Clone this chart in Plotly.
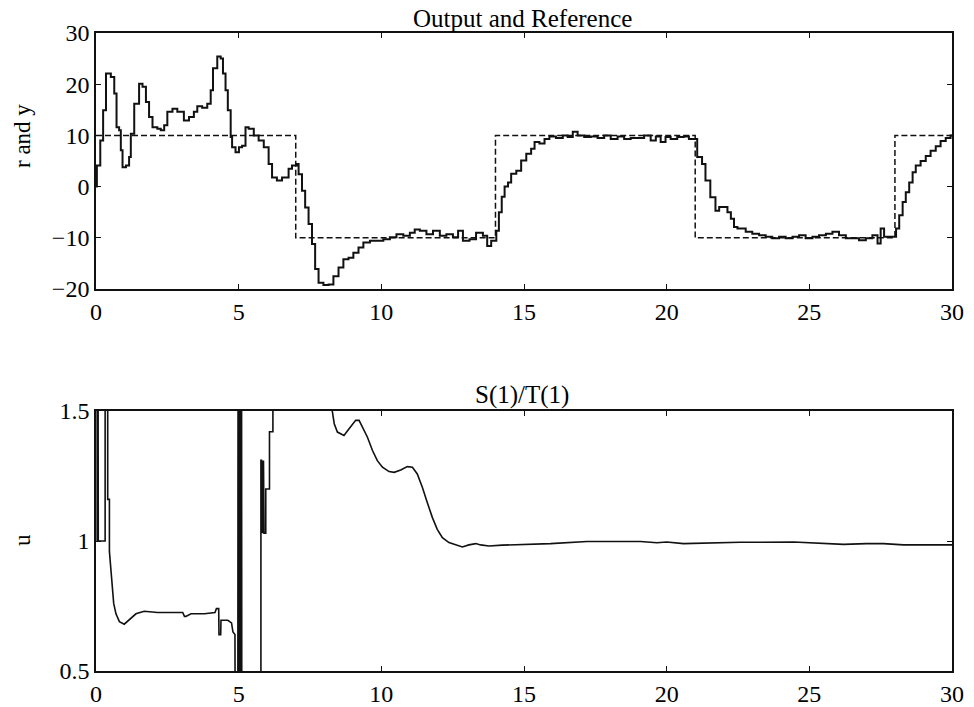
import plotly.graph_objects as go

# ---------------- data ----------------
# Output y (zero-order-hold staircase)
y_time = [0.00, 0.03, 0.15, 0.25, 0.35, 0.52, 0.64, 0.72, 0.81, 0.87, 0.93, 1.05, 1.16, 1.22, 1.34,
          1.51, 1.63, 1.75, 1.86, 1.98, 2.15, 2.27, 2.39, 2.50, 2.68, 2.85, 3.08, 3.26, 3.43, 3.55,
          3.72, 3.90, 4.02, 4.10, 4.25, 4.37, 4.45, 4.54, 4.62, 4.72, 4.77, 4.89, 5.01, 5.12, 5.24,
          5.35, 5.53, 5.70, 5.88, 6.05, 6.17, 6.34, 6.52, 6.75, 6.87, 7.04, 7.10, 7.22, 7.33, 7.45,
          7.57, 7.68, 7.80, 7.97, 8.15, 8.32, 8.50, 8.67, 8.85, 9.02, 9.20, 9.37, 9.60, 9.83, 10.07,
          10.30, 10.53, 10.77, 11.00, 11.17, 11.35, 11.58, 11.81, 12.05, 12.28, 12.51, 12.69, 12.86,
          13.09, 13.32, 13.56, 13.71, 13.85, 14.03, 14.12, 14.22, 14.32, 14.44, 14.55, 14.73, 14.90,
          15.08, 15.25, 15.37, 15.54, 15.72, 15.89, 16.12, 16.36, 16.53, 16.71, 16.88, 17.11, 17.34,
          17.58, 17.81, 18.04, 18.28, 18.51, 18.74, 18.97, 19.21, 19.44, 19.62, 19.79, 19.96, 20.14,
          20.37, 20.60, 20.78, 21.01, 21.07, 21.24, 21.36, 21.53, 21.71, 21.84, 22.13, 22.25, 22.36,
          22.48, 22.77, 23.00, 23.24, 23.47, 23.70, 23.94, 24.17, 24.41, 24.64, 24.87, 25.11, 25.34,
          25.58, 25.81, 26.04, 26.28, 26.51, 26.74, 26.98, 27.21, 27.39, 27.50, 27.62, 28.04, 28.15,
          28.27, 28.38, 28.50, 28.62, 28.73, 28.90, 29.08, 29.25, 29.43, 29.60, 29.78, 29.95, 30.00]
y_output = [0.0, 4.1, 9.0, 14.9, 22.1, 21.4, 18.2, 11.6, 11.0, 7.1, 3.8, 4.1, 5.8, 10.3, 16.2,
            20.1, 19.5, 16.5, 13.6, 11.6, 11.3, 11.0, 12.0, 14.6, 15.2, 14.6, 12.9, 13.6, 14.6, 15.7,
            15.4, 16.2, 18.8, 23.1, 25.4, 25.0, 22.1, 18.8, 14.9, 9.7, 7.7, 6.7, 7.7, 8.0, 11.6,
            11.3, 10.0, 9.0, 7.7, 4.4, 1.8, 1.2, 1.8, 3.5, 4.1, 4.4, 2.4, -0.8, -4.1, -7.3,
            -11.2, -16.1, -18.8, -19.2, -19.1, -17.5, -15.8, -14.2, -13.9, -12.9, -11.9, -10.9, -10.6, -10.6, -10.3,
            -9.9, -9.3, -9.6, -9.0, -8.4, -8.6, -9.3, -8.6, -9.6, -9.3, -9.9, -8.6, -10.6,
            -10.3, -9.0, -9.6, -11.6, -10.6, -8.6, -5.0, -2.0, 0.0, 0.8, 2.5, 3.1, 5.1,
            6.4, 7.4, 8.7, 8.4, 9.3, 9.8, 9.5, 10.0, 9.7, 10.7, 10.0, 9.7, 9.8,
            9.5, 10.0, 9.3, 9.8, 9.3, 9.5, 9.5, 10.0, 9.0, 9.8, 8.7, 9.7, 9.3,
            9.7, 9.8, 9.3, 9.3, 5.8, 4.4, 1.2, -2.1, -4.7, -4.0, -5.0, -6.3, -7.9,
            -8.2, -8.8, -9.2, -9.5, -9.8, -10.1, -9.8, -10.1, -9.8, -9.5, -10.1, -9.8, -9.5,
            -9.2, -8.8, -9.5, -10.1, -10.1, -10.5, -10.1, -9.5, -11.1, -8.2, -9.8, -8.2, -5.6,
            -3.0, -1.1, 0.8, 2.8, 4.1, 5.0, 6.0, 7.0, 7.9, 8.9, 9.5, 10.0, 10.0]

# Reference r (square wave)
r_time = [0, 7, 7, 14, 14, 21, 21, 28, 28, 30]
r_value = [10, 10, -10, -10, 10, 10, -10, -10, 10, 10]

# Control ratio u = S(1)/T(1) (values beyond the axis range are clipped)
u_time = [0.00, 0.04, 0.04, 0.05, 0.06, 0.07, 0.08, 0.32, 0.32, 0.41, 0.41, 0.47, 0.47, 0.55, 0.62,
          0.70, 0.82, 0.99, 1.17, 1.40, 1.69, 2.16, 2.63, 3.04, 3.10, 3.15, 3.33, 3.80, 4.17, 4.22,
          4.30, 4.31, 4.37, 4.38, 4.62, 4.75, 4.80, 4.87, 4.88, 4.97, 4.98, 5.00, 5.02, 5.04, 5.06,
          5.08, 5.10, 5.11, 5.78, 5.78, 5.80, 5.81, 5.83, 5.85, 5.87, 5.89, 5.95, 5.95, 6.08, 6.08,
          6.20, 6.20, 8.25, 8.28, 8.35, 8.46, 8.69, 8.87, 9.10, 9.22, 9.34, 9.51, 9.69, 9.86, 10.04,
          10.27, 10.45, 10.68, 10.91, 11.09, 11.26, 11.44, 11.61, 11.79, 11.96, 12.14, 12.37, 12.61,
          12.84, 13.07, 13.31, 13.48, 13.77, 14.24, 15.93, 17.21, 19.08, 19.66, 20.00, 20.59, 21.18,
          22.58, 24.45, 25.85, 26.20, 27.00, 27.60, 28.30, 30.00]
u_value = [1.9, 1.9, 1.0, 1.9, 1.0, 1.9, 1.0, 1.0, 1.9, 1.9, 1.16, 1.16, 0.96, 0.84, 0.76,
           0.72, 0.69, 0.68, 0.696, 0.72, 0.73, 0.725, 0.725, 0.725, 0.71, 0.71, 0.72, 0.72, 0.725, 0.74,
           0.74, 0.64, 0.64, 0.695, 0.695, 0.685, 0.65, 0.64, 0.2, 0.2, 1.9, 0.2, 1.9, 0.2, 1.9,
           0.2, 1.9, 0.2, 0.2, 1.31, 1.31, 1.03, 1.31, 1.03, 1.31, 1.03, 1.03, 1.20, 1.20, 1.42,
           1.42, 1.9, 1.9, 1.50, 1.451, 1.419, 1.406, 1.432, 1.464, 1.464, 1.438, 1.40, 1.348, 1.309, 1.284,
           1.267, 1.264, 1.273, 1.286, 1.284, 1.258, 1.206, 1.148, 1.090, 1.045, 1.013, 0.994, 0.985,
           0.977, 0.985, 0.990, 0.985, 0.981, 0.984, 0.990, 0.998, 0.998, 0.993, 0.996, 0.990, 0.992,
           0.995, 0.996, 0.990, 0.987, 0.990, 0.990, 0.985, 0.985]

x_ticks = [0, 5, 10, 15, 20, 25, 30]
top_y_ticks = [-20, -10, 0, 10, 20, 30]
bottom_y_ticks = [0.5, 1, 1.5]
bottom_y_ticktext = ["0.5", "1", "1.5"]

# ---------------- figure ----------------
W, H = 974, 707
ML, MR, MT, MB = 96, 22, 33, 36
plot_w = W - ML - MR
plot_h = H - MT - MB

def py(pix):
    return (H - MB - pix) / plot_h

def px(pix):
    return (pix - ML) / plot_w

FONT = "Liberation Serif, Times New Roman, serif"
INK = "#111111"

fig = go.Figure()
fig.add_trace(go.Scatter(x=y_time, y=y_output, mode="lines", line_shape="hv",
                         line=dict(color=INK, width=2.0), xaxis="x", yaxis="y", showlegend=False))
fig.add_trace(go.Scatter(x=r_time, y=r_value, mode="lines",
                         line=dict(color=INK, width=1.5, dash="6px,3px"), xaxis="x", yaxis="y",
                         showlegend=False))
fig.add_trace(go.Scatter(x=u_time, y=u_value, mode="lines",
                         line=dict(color=INK, width=1.6), xaxis="x2", yaxis="y2", showlegend=False))

axis_common = dict(showgrid=False, zeroline=False, showline=True, mirror="ticks",
                   linecolor=INK, linewidth=1.6, ticks="inside", ticklen=5, tickwidth=1.2,
                   tickcolor=INK, automargin=False,
                   tickfont=dict(family=FONT, size=24, color="black"))

fig.update_layout(
    width=W, height=H,
    margin=dict(l=ML, r=MR, t=MT, b=MB, autoexpand=False),
    paper_bgcolor="white", plot_bgcolor="white",
    xaxis=dict(domain=[0, 1], range=[0, 30], tickvals=x_ticks, anchor="y",
               ticklabelstandoff=0, **axis_common),
    yaxis=dict(domain=[py(289), 1], range=[-20, 30], tickvals=top_y_ticks, anchor="x", **axis_common),
    xaxis2=dict(domain=[0, 1], range=[0, 30], tickvals=x_ticks, anchor="y2",
                ticklabelstandoff=0, **axis_common),
    yaxis2=dict(domain=[0, py(411)], range=[0.5, 1.5], tickvals=bottom_y_ticks,
                ticktext=bottom_y_ticktext, anchor="x2", **axis_common),
    annotations=[
        dict(text="Output and Reference", xref="paper", yref="paper", x=px(522), y=py(34),
             xanchor="center", yanchor="bottom", showarrow=False,
             font=dict(family=FONT, size=25, color="black")),
        dict(text="S(1)/T(1)", xref="paper", yref="paper", x=px(522), y=py(411),
             xanchor="center", yanchor="bottom", showarrow=False,
             font=dict(family=FONT, size=25, color="black")),
        dict(text="r and y", xref="paper", yref="paper", x=px(22), y=py(136),
             xanchor="center", yanchor="middle", showarrow=False, textangle=-90,
             font=dict(family=FONT, size=23, color="black")),
        dict(text="u", xref="paper", yref="paper", x=px(22), y=py(540),
             xanchor="center", yanchor="middle", showarrow=False, textangle=-90,
             font=dict(family=FONT, size=23, color="black")),
    ],
)

fig.write_html("out.html")
